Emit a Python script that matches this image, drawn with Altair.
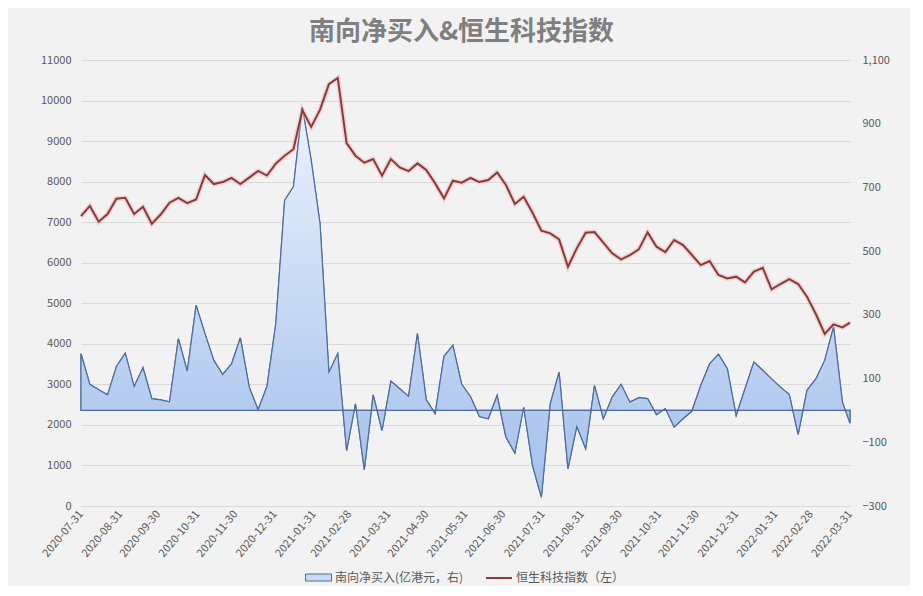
import altair as alt
import pandas as pd

# weekly observations, 2020-07-31 .. 2022-03-31
dates = [d.strftime("%Y-%m-%dT00:00:00") for d in pd.date_range("2020-07-31", periods=87, freq="7D")] + ["2022-03-31T00:00:00"]

# 恒生科技指数 (left axis)
hstech = [7150, 7400, 7010, 7200, 7580, 7600, 7200, 7380, 6960, 7190,
          7480, 7600, 7470, 7560, 8160, 7940, 7990, 8090, 7940, 8100,
          8265, 8150, 8445, 8640, 8800, 9766, 9350, 9775, 10405, 10555,
          8950, 8640, 8467, 8557, 8146, 8557, 8352, 8261, 8450, 8286,
          7957, 7587, 8023, 7974, 8090, 7990, 8039, 8228, 7916, 7448,
          7628, 7234, 6790, 6724, 6576, 5902, 6354, 6741, 6757, 6494,
          6231, 6083, 6190, 6330, 6749, 6395, 6260, 6560, 6436, 6190,
          5943, 6042, 5697, 5614, 5656, 5516, 5779, 5877, 5343, 5475,
          5598, 5475, 5162, 4735, 4242, 4480, 4406, 4521]

# 南向净买入 (亿港元, right axis)
southbound = [178, 82, 65, 49, 138, 180, 75, 134, 37, 33,
              27, 225, 123, 330, 241, 157, 113, 146, 228, 73,
              2, 75, 272, 659, 703, 952, 785, 586, 120, 178,
              -126, 21, -186, 49, -63, 92, 68, 44, 241, 33,
              -10, 170, 204, 82, 43, -19, -26, 47, -84, -134,
              10, -173, -272, 21, 120, -183, -50, -120, 78, -26,
              42, 82, 26, 40, 37, -13, 6, -52, -26, -2,
              78, 146, 176, 131, -16, 68, 152, 126, 99, 73,
              50, -75, 63, 99, 157, 262, 26, -40]

month_ends = [(2020, 7, 31), (2020, 8, 31), (2020, 9, 30), (2020, 10, 31), (2020, 11, 30),
              (2020, 12, 31), (2021, 1, 31), (2021, 2, 28), (2021, 3, 31), (2021, 4, 30),
              (2021, 5, 31), (2021, 6, 30), (2021, 7, 31), (2021, 8, 31), (2021, 9, 30),
              (2021, 10, 31), (2021, 11, 30), (2021, 12, 31), (2022, 1, 31), (2022, 2, 28),
              (2022, 3, 31)]
left_ticks = list(range(0, 11001, 1000))
right_ticks = list(range(-300, 1101, 200))

A = "南向净买入(亿港元，右)"
B = "恒生科技指数（左）"
TITLE = "南向净买入&恒生科技指数"
FONT = "Noto Sans CJK SC"
LABEL = "#595959"
GRID = "#d9d9d9"
AREA_EDGE = "#4d6d9e"
LINE_COLOR = "#8b3a3a"

df = pd.DataFrame({"date": dates, "hstech": hstech, "southbound": southbound})

x = alt.X(
    "date:T",
    scale=alt.Scale(domain=[alt.DateTime(year=2020, month=7, date=31),
                            alt.DateTime(year=2022, month=3, date=31)], nice=False),
    axis=alt.Axis(values=[alt.DateTime(year=y, month=m, date=d) for (y, m, d) in month_ends],
                  format="%Y-%m-%d", labelAngle=-50, labelAlign="right", labelBaseline="middle",
                  labelPadding=6, labelFont=FONT, labelFontSize=11, labelColor=LABEL,
                  ticks=False, grid=False, domain=True, domainColor=GRID, labelOverlap=False),
    title=None,
)

legend_common = dict(title=None, orient="none", direction="horizontal", symbolSize=676,
                     labelFont=FONT, labelFontSize=12, labelColor=LABEL, labelOffset=3,
                     padding=0, labelLimit=400)

right_scale = alt.Scale(domain=[-300, 1100], nice=False, zero=False)
yl_scale = alt.Scale(domain=[0, 11000], nice=False)

# base area: carries the right axis and the legend entry
area_base = alt.Chart(df).transform_calculate(series=f"'{A}'").mark_area(
    fillOpacity=1, stroke=AREA_EDGE, strokeWidth=1.2,
).encode(
    x=x,
    y=alt.Y("southbound:Q", scale=right_scale,
            axis=alt.Axis(orient="right", values=right_ticks, format=",.0f", grid=False, domain=False,
                          ticks=False, labelPadding=12, labelFont=FONT, labelFontSize=11,
                          labelColor=LABEL),
            title=None),
    y2=alt.datum(0),
    fill=alt.Fill("series:N", scale=alt.Scale(domain=[A], range=["#c8daf6"]),
                  legend=alt.Legend(legendX=224, legendY=504, symbolType="M-1,-0.27H1V0.27H-1Z",
                                    symbolStrokeColor=AREA_EDGE, symbolStrokeWidth=1,
                                    symbolFillColor="#c8daf6", **legend_common)),
)

# gradient fill drawn on top of the same shape
area_grad = alt.Chart(df).mark_area(
    fill=alt.Gradient(gradient="linear",
                      stops=[alt.GradientStop(color="#ebf2fd", offset=0),
                             alt.GradientStop(color="#a3bfeb", offset=1)],
                      x1=0, x2=0, y1=0, y2=1),
    fillOpacity=1, stroke=AREA_EDGE, strokeWidth=1.2,
).encode(
    x=x,
    y=alt.Y("southbound:Q", scale=right_scale, axis=None, title=None),
    y2=alt.datum(0),
)

glow = alt.Chart(df).mark_line(color="#e8b2b2", strokeWidth=5, opacity=0.45).encode(
    x=x, y=alt.Y("hstech:Q", scale=yl_scale, axis=None, title=None)
)

line = alt.Chart(df).transform_calculate(series=f"'{B}'").mark_line(strokeWidth=2).encode(
    x=x,
    y=alt.Y("hstech:Q", scale=yl_scale,
            axis=alt.Axis(orient="left", values=left_ticks, format="d", grid=True, gridColor=GRID,
                          gridWidth=1, domain=False, ticks=False, labelPadding=10, labelFont=FONT,
                          labelFontSize=11, labelColor=LABEL),
            title=None),
    stroke=alt.Stroke("series:N", scale=alt.Scale(domain=[B], range=[LINE_COLOR]),
                      legend=alt.Legend(legendX=404, legendY=504, symbolType="stroke",
                                        symbolStrokeWidth=2, symbolFillColor="transparent",
                                        **legend_common)),
)

chart = alt.layer(area_base, area_grad, glow, line).resolve_scale(y="independent").properties(
    width=769, height=446,
    autosize=alt.AutoSizeParams(type="none"),
    padding={"left": 73, "top": 52, "right": 60, "bottom": 80},
    background="#f2f2f2",
    title=alt.TitleParams(text=TITLE, font=FONT, fontSize=26, fontWeight="bold", color="#7f7f7f",
                          anchor="middle", frame="group", offset=9, dx=-4),
).configure_view(stroke=None)

chart.save("out.html", embed_options={"renderer": "svg", "actions": False})
